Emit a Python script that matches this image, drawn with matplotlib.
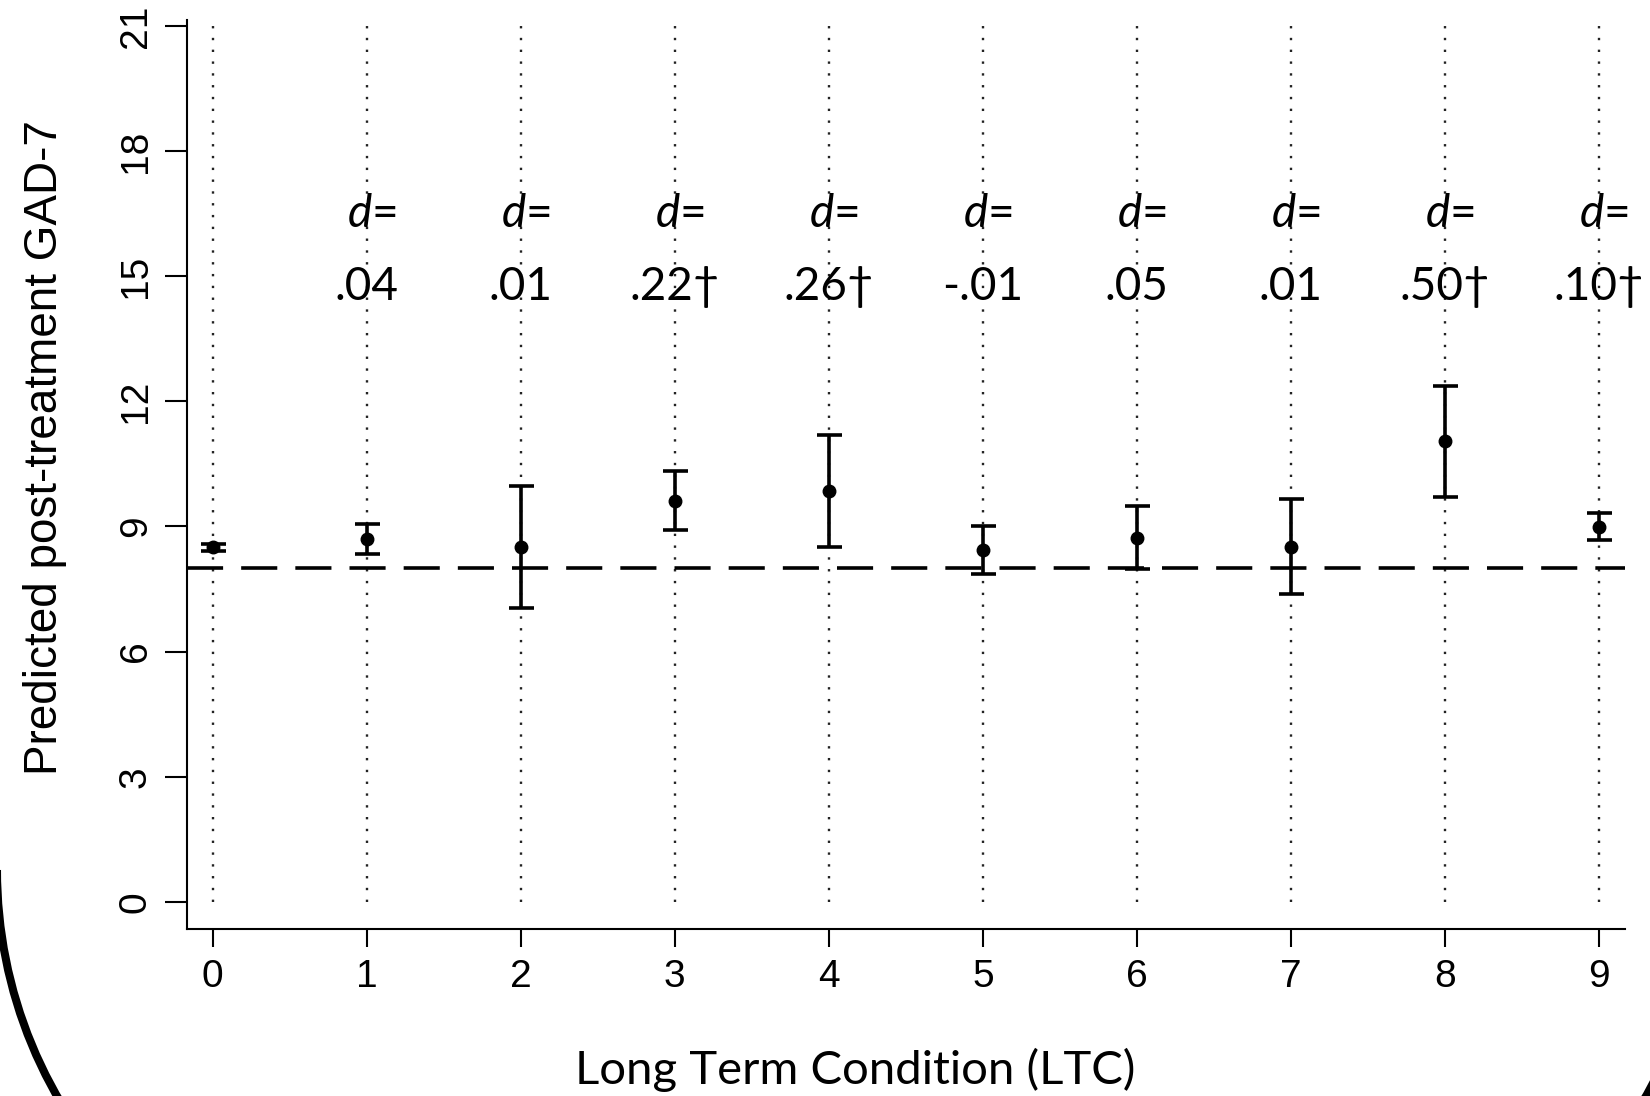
import matplotlib
matplotlib.use("Agg")
import matplotlib.pyplot as plt
from matplotlib.patches import Arc
import numpy as np

# number of long term conditions
ltc = [0, 1, 2, 3, 4, 5, 6, 7, 8, 9]
# predicted post-treatment GAD-7 and 95% CI
pred = [8.50, 8.71, 8.50, 9.62, 9.85, 8.43, 8.73, 8.50, 11.06, 8.99]
ci_low = [8.42, 8.33, 7.04, 8.91, 8.50, 7.87, 7.97, 7.37, 9.70, 8.68]
ci_high = [8.58, 9.06, 9.97, 10.33, 11.19, 9.01, 9.49, 9.65, 12.38, 9.32]
# effect sizes for 1..9 LTCs
d_labels = [".04", ".01", ".22\u2020", ".26\u2020", "-.01", ".05", ".01", ".50\u2020", ".10\u2020"]
ref_line = 8.0
yticks = [0, 3, 6, 9, 12, 15, 18, 21]

plt.rcParams['mathtext.fontset'] = 'custom'
plt.rcParams['mathtext.it'] = 'Lato:italic'
plt.rcParams['mathtext.rm'] = 'Lato'

W, H = 1650, 1096
fig = plt.figure(figsize=(W / 100, H / 100), dpi=100)
ax = fig.add_axes([0.1135, 0.152, 0.8715, 0.83])

# vertical dotted guides
for x in ltc:
    ax.plot([x, x], [0, 21], color='#222222', lw=1.7, linestyle=(0, (1, 4)), zorder=1)

ax.axhline(ref_line, color='black', lw=2.6, dashes=(10, 5), zorder=2)

pred = np.array(pred)
yerr = np.vstack([pred - np.array(ci_low), np.array(ci_high) - pred])
ax.errorbar(ltc, pred, yerr=yerr, fmt='o', color='black', ms=9, elinewidth=2.6,
            capsize=9, capthick=2.6, zorder=3)

for x, lab in zip(ltc[1:], d_labels):
    ax.text(x + 0.03, 16.5, r"$d$=", ha='center', va='center', fontsize=33, family='Lato')
    ax.text(x, 14.75, lab, ha='center', va='center', fontsize=33, family='Lato')

ax.set_xlim(-0.165, 9.17)
ax.set_ylim(-0.66, 21.15)
ax.set_xticks(ltc)
ax.set_yticks(yticks)
ax.set_yticklabels([str(t) for t in yticks], rotation=90, va='center')
for lab in ax.get_xticklabels() + ax.get_yticklabels():
    lab.set_family('Liberation Sans')
    lab.set_fontsize(28)
ax.tick_params(axis='y', length=16, width=1.5, pad=8)
ax.tick_params(axis='x', length=13, width=1.5, pad=8)
ax.spines['top'].set_visible(False)
ax.spines['right'].set_visible(False)
ax.spines['left'].set_linewidth(1.5)
ax.spines['bottom'].set_linewidth(1.5)

fig.text(0.027, 0.592, "Predicted post-treatment GAD-7", rotation=90, ha='center', va='center',
         fontsize=33, family='Liberation Sans')
fig.text(0.518, 0.024, "Long Term Condition (LTC)", ha='center', va='center',
         fontsize=34, family='Lato')

# corners of a rounded frame, visible at the bottom of the picture
R = 456
for cx, t1, t2 in [(453, 180, 270), (1250, 270, 360)]:
    fig.add_artist(Arc((cx / W, 226 / H), 2 * R / W, 2 * R / H, theta1=t1, theta2=t2,
                       transform=fig.transFigure, color='black', lw=5.8))

fig.savefig('out.png', dpi=100)
